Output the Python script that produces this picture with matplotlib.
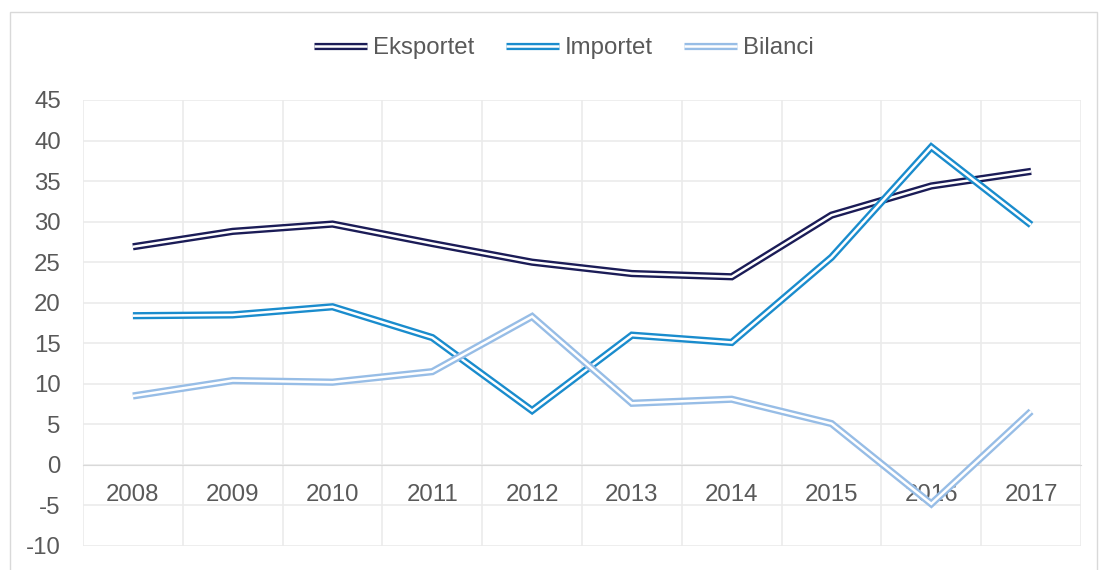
import matplotlib
matplotlib.use("Agg")
import matplotlib.pyplot as plt
from matplotlib.lines import Line2D
from matplotlib.patches import Rectangle

years = ["2008", "2009", "2010", "2011", "2012", "2013", "2014", "2015", "2016", "2017"]
eksportet = [26.9, 28.8, 29.7, 27.3, 25.0, 23.6, 23.2, 30.8, 34.4, 36.2]
importet = [18.4, 18.5, 19.5, 15.7, 6.7, 16.0, 15.1, 25.6, 39.2, 29.6]
bilanci = [8.5, 10.4, 10.2, 11.5, 18.3, 7.6, 8.1, 5.1, -4.8, 6.6]

series = [("Eksportet", eksportet, "#1b1c57"),
          ("Importet", importet, "#1a8ccd"),
          ("Bilanci", bilanci, "#97bde6")]

plt.rcParams['font.family'] = ['Liberation Sans', 'DejaVu Sans']
text_color = "#595959"
fs = 17.3

fig = plt.figure(figsize=(10.99, 5.70), dpi=100)
ax = fig.add_axes([83/1099, 1-546/570, (1081-83)/1099, (546-100)/570])

x = list(range(len(years)))
handles = []
outer, inner = 5.2, 1.8
for name, vals, col in series:
    ax.plot(x, vals, color=col, lw=outer, solid_joinstyle='miter', solid_capstyle='butt', zorder=3)
    ax.plot(x, vals, color="white", lw=inner, solid_joinstyle='miter', solid_capstyle='butt', zorder=3)
    handles.append((Line2D([], [], color=col, lw=outer, solid_capstyle='butt'),
                    Line2D([], [], color="white", lw=inner, solid_capstyle='butt')))

ax.set_xlim(-0.5, len(years) - 0.5)
ax.set_ylim(-10, 45)
ax.set_yticks(range(-10, 46, 5))
ax.set_yticklabels([str(v) for v in range(-10, 46, 5)])
ax.tick_params(axis='y', length=0, labelsize=fs, labelcolor=text_color, pad=16)

ax.set_xticks(x)
ax.set_xticklabels(years)
ax.set_xticks([i - 0.5 for i in range(len(years) + 1)], minor=True)
ax.tick_params(axis='x', which='both', length=0, labelsize=fs, labelcolor=text_color, pad=14)
ax.spines['bottom'].set_position(('data', 0))
ax.spines['bottom'].set_color('#d9d9d9')
for s in ['top', 'right', 'left']:
    ax.spines[s].set_visible(False)

ax.grid(axis='y', which='major', color='#ebebeb', lw=1.2, zorder=0)
ax.grid(axis='x', which='minor', color='#ebebeb', lw=1.2, zorder=0)
ax.grid(axis='x', which='major', visible=False)
ax.set_axisbelow(True)

leg = fig.legend(handles, [s[0] for s in series], loc='center', bbox_to_anchor=(564/1099, 1-48/570),
                 ncol=3, frameon=False, fontsize=fs, handlelength=2.2, columnspacing=1.3,
                 handletextpad=0.25)
for t in leg.get_texts():
    t.set_color(text_color)

fig.patches.append(Rectangle((10/1099, -0.01), 1087/1099, 1 - 12/570 + 0.01, transform=fig.transFigure,
                             fill=False, edgecolor='#d9d9d9', lw=1.0))

fig.savefig("out.png", dpi=100, facecolor='white')
